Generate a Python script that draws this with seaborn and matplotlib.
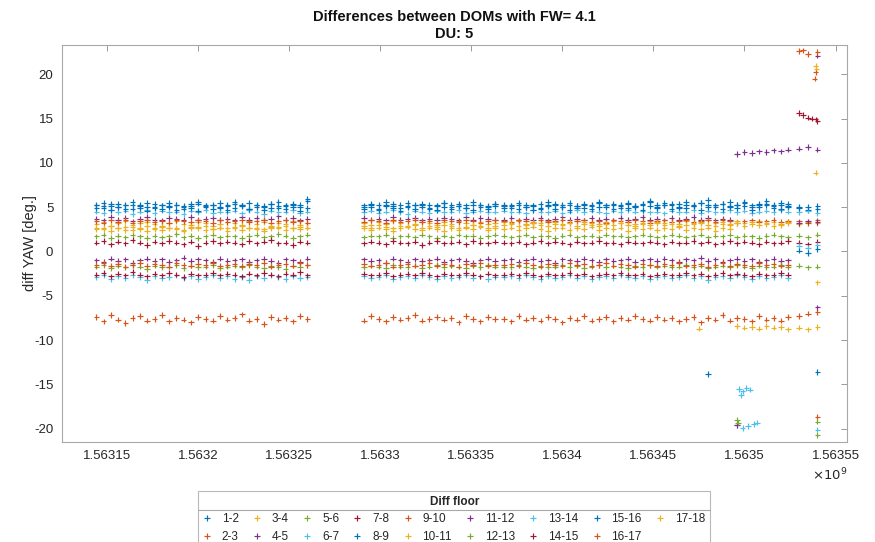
import numpy as np
import pandas as pd
import matplotlib
matplotlib.use("Agg")
import matplotlib.pyplot as plt
import seaborn as sns
from matplotlib.ticker import FuncFormatter, MultipleLocator
from matplotlib.lines import Line2D

nan = np.nan

# pares de pisos y colores (orden de colores de MATLAB)
pairs = ["1-2", "2-3", "3-4", "4-5", "5-6", "6-7", "7-8", "8-9", "9-10",
         "10-11", "11-12", "12-13", "13-14", "14-15", "15-16", "16-17", "17-18"]
matlab_colors = ["#0072BD", "#D95319", "#EDB120", "#7E2F8E", "#77AC30", "#4DBEEE", "#A2142F"]

# tiempos de muestreo (unix time, s)
t_seg1 = [1563144000, 1563148000, 1563152000, 1563156000, 1563160000, 1563164000, 1563168000,
          1563172000, 1563176000, 1563180000, 1563184000, 1563188000, 1563192000, 1563196000,
          1563200000, 1563204000, 1563208000, 1563212000, 1563216000, 1563220000, 1563224000,
          1563228000, 1563232000, 1563236000, 1563240000, 1563244000, 1563248000, 1563252000,
          1563256000, 1563260000]
t_seg2 = [1563291000, 1563295000, 1563299000, 1563303000, 1563307000, 1563311000, 1563315000,
          1563319000, 1563323000, 1563327000, 1563331000, 1563335000, 1563339000, 1563343000,
          1563347000, 1563351000, 1563355000, 1563359000, 1563363000]
t_seg3 = [1563368000, 1563372000, 1563376000, 1563380000, 1563384000, 1563388000, 1563392000,
          1563396000, 1563400000, 1563404000, 1563408000, 1563412000, 1563416000, 1563420000,
          1563424000, 1563428000, 1563432000, 1563436000, 1563440000, 1563444000, 1563448000,
          1563452000, 1563456000, 1563460000, 1563464000, 1563468000, 1563472000, 1563476000,
          1563480000, 1563484000, 1563488000, 1563492000, 1563496000, 1563500000, 1563504000,
          1563508000, 1563512000, 1563516000, 1563520000, 1563524000]
t_post = [1563530000, 1563535000, 1563540000]

# diferencias de YAW [deg] por par de pisos
yaw_1_2 = ([5.2, 4.9, 5.4, 5.0, 5.3, 4.8, 5.1, 5.5, 4.9, 5.2, 5.0, 5.3, 4.8, 5.1, 5.4,
            5.0, 5.2, 4.9, 5.3, 5.6, 5.1, 4.8, 5.2, 5.0, 5.4, 4.9, 5.1, 5.3, 5.0, 5.7]
           + [5.0, 5.3, 4.8, 5.2, 5.4, 4.9, 5.1, 5.3, 5.0, 4.8, 5.2, 5.5, 5.0, 5.1, 4.9, 5.3, 5.2, 5.0, 5.4]
           + [5.1, 4.9, 5.3, 5.0, 5.2, 4.8, 5.1, 5.4, 5.0, 5.2, 4.9, 5.3, 5.1, 5.5, 5.0, 5.2, 4.9, 5.4, 5.1, 5.3,
              5.6, 5.0, 5.2, 5.4, 4.9, 5.3, 5.1, 5.5, 5.2, 5.0, 5.4, 5.1, 5.3, 5.6, 5.0, 5.2, 5.4, 5.1, 5.3, 5.0]
           + [5.0, 4.7, 5.1])
yaw_2_3 = ([-7.4, -7.9, -7.2, -7.7, -8.1, -7.5, -7.3, -7.8, -7.6, -7.2, -7.9, -7.5, -7.7, -8.0, -7.4,
            -7.6, -7.8, -7.3, -7.7, -7.5, -7.1, -7.8, -7.6, -8.2, -7.4, -7.7, -7.5, -7.9, -7.3, -7.6]
           + [-7.8, -7.3, -7.6, -7.9, -7.4, -7.7, -7.5, -7.2, -7.8, -7.6, -7.4, -7.7, -7.5, -8.0, -7.3,
              -7.6, -7.9, -7.4, -7.6]
           + [-7.6, -7.9, -7.3, -7.7, -7.5, -7.8, -7.4, -7.6, -8.0, -7.5, -7.7, -7.3, -7.8, -7.6, -7.4,
              -7.9, -7.5, -7.7, -7.3, -7.6, -7.8, -7.4, -7.7, -7.5, -7.9, -7.6, -7.4, -8.0, -7.5, -7.7,
              -7.2, -7.8, -7.5, -7.6, -7.9, -7.3, -7.7, -7.5, -7.8, -7.4]
           + [-7.3, -7.0, -6.8])
yaw_3_4 = ([3.1, 3.3, 2.9, 3.2, 3.4, 3.0, 3.2, 3.3, 3.1, 2.9, 3.2, 3.4, 3.1, 3.0, 3.3,
            3.2, 2.9, 3.1, 3.3, 3.2, 3.0, 3.4, 3.1, 3.3, 2.9, 3.2, 3.1, 3.4, 3.0, 3.2]
           + [3.2, 3.0, 3.3, 3.1, 3.4, 3.2, 2.9, 3.1, 3.3, 3.2, 3.0, 3.3, 3.1, 3.4, 3.2, 3.0, 3.3, 3.1, 3.2]
           + [3.3, 3.2, 3.4, 3.1, 3.3, 3.2, 3.4, 3.3, 3.1, 3.2, 3.4, 3.3, 3.2, 3.1, 3.3, 3.4, 3.2, 3.3, 3.1, 3.2,
              3.4, 3.3, 3.2, 3.3, 3.1, 3.4, 3.2, 3.3, 3.5, 3.2, 3.3, 3.1, 3.4, 3.2, 3.3, 3.4, 3.2, 3.3, 3.1, 3.3]
           + [3.1, 3.3, 3.2])
yaw_4_5 = ([3.7, 3.5, 3.9, 3.6, 3.8, 3.4, 3.7, 3.9, 3.6, 3.5, 3.8, 3.7, 3.6, 3.9, 3.5,
            3.7, 3.8, 3.6, 3.7, 3.5, 3.9, 3.6, 3.8, 3.5, 3.7, 4.0, 3.6, 3.8, 3.5, 3.7]
           + [3.8, 3.6, 3.7, 3.5, 3.9, 3.6, 3.7, 3.8, 3.5, 3.7, 3.6, 3.8, 3.7, 3.5, 3.9, 3.6, 3.8, 3.7, 3.6]
           + [3.6, 3.8, 3.5, 3.7, 3.6, 3.8, 3.5, 3.7, 3.9, 3.6, 3.7, 3.5, 3.8, 3.6, 3.7, 3.5, 3.8, 3.6, 3.7, 3.9,
              3.6, 3.7, 3.5, 3.8, 3.6, 3.7, 3.9, 3.6, 3.8, 3.5, 3.7, 3.6, 11.0, 11.2, 11.1, 11.3, 11.2, 11.4, 11.3, 11.5]
           + [11.6, 11.8, 11.5])
yaw_5_6 = ([1.7, 1.9, 1.5, 1.8, 1.6, 1.9, 1.7, 1.5, 1.8, 1.6, 1.7, 2.0, 1.6, 1.8, 1.5,
            1.7, 1.9, 1.6, 1.8, 1.7, 1.5, 1.8, 1.9, 1.6, 1.7, 2.0, 1.8, 1.5, 1.7, 1.9]
           + [1.6, 1.8, 1.7, 1.9, 1.5, 1.7, 1.8, 1.6, 1.9, 1.7, 1.5, 1.8, 1.6, 1.9, 1.7, 1.8, 1.5, 1.7, 1.9]
           + [1.8, 1.6, 1.7, 1.9, 1.6, 1.8, 1.7, 1.5, 1.8, 1.9, 1.6, 1.7, 1.8, 1.6, 1.9, 1.7, 1.8, 1.6, 1.7, 1.9,
              1.8, 1.6, 1.7, 1.9, 1.8, 1.6, 1.7, 1.9, 1.6, 1.8, 1.7, 1.9, 1.6, 1.8, 1.7, 1.5, 1.8, 1.9, 1.7, 1.6]
           + [1.8, 1.6, 1.9])
yaw_6_7 = ([4.5, 4.3, 4.7, 4.4, 4.6, 4.2, 4.5, 4.7, 4.3, 4.6, 4.4, 4.5, 4.2, 4.6, 4.4,
            4.7, 4.3, 4.5, 4.4, 4.6, 4.3, 4.7, 4.5, 4.2, 4.6, 4.4, 4.5, 4.7, 4.3, 4.5]
           + [4.4, 4.6, 4.3, 4.5, 4.7, 4.4, 4.2, 4.6, 4.5, 4.3, 4.6, 4.4, 4.5, 4.7, 4.3, 4.5, 4.6, 4.4, 4.5]
           + [4.6, 4.4, 4.5, 4.3, 4.7, 4.5, 4.4, 4.6, 4.3, 4.5, 4.7, 4.4, 4.6, 4.5, 4.3, 4.6, 4.4, 4.7, 4.5, 4.6,
              4.4, 4.5, 4.3, 4.6, 4.4, 4.5, 4.7, 4.3, 4.6, 4.4, 4.5, 4.7, 4.4, 4.6, 4.3, 4.5, 4.6, 4.4, 4.7, 4.5]
           + [4.4, 4.6, 4.3])
yaw_7_8 = ([1.0, 1.2, 0.8, 1.1, 0.9, 1.3, 1.0, 0.7, 1.1, 0.9, 1.2, 1.0, 0.8, 1.1, 0.6,
            1.0, 1.2, 0.9, 1.1, 1.0, 0.8, 1.2, 0.9, 1.1, 1.3, 0.9, 1.0, 0.7, 1.1, 1.0]
           + [0.9, 1.1, 1.0, 0.8, 1.2, 1.0, 0.9, 1.1, 0.7, 1.0, 1.2, 0.9, 1.0, 1.1, 0.8, 1.2, 1.0, 0.9, 1.1]
           + [1.0, 0.9, 1.1, 0.8, 1.0, 1.2, 0.9, 1.1, 1.0, 0.8, 1.1, 0.9, 1.0, 1.2, 0.9, 1.0, 0.8, 1.1, 1.0, 0.9,
              1.1, 1.0, 0.8, 1.1, 0.9, 1.0, 1.2, 0.9, 1.1, 0.8, 1.0, 1.2, 0.9, 1.1, 1.0, 0.8, 1.1, 0.9, 1.0, 1.2]
           + [1.0, 0.8, 1.1])
yaw_8_9 = ([4.9, 5.1, 4.7, 5.0, 4.8, 5.2, 4.9, 4.6, 5.0, 4.8, 5.1, 4.7, 5.0, 4.9, 4.6,
            5.1, 4.8, 5.0, 4.7, 4.9, 5.2, 4.8, 5.0, 4.7, 4.9, 5.1, 4.8, 5.0, 4.6, 4.9]
           + [4.8, 5.0, 4.7, 5.1, 4.9, 4.6, 5.0, 4.8, 5.2, 4.9, 4.7, 5.0, 4.8, 5.1, 4.9, 4.7, 5.0, 4.8, 5.1]
           + [4.9, 5.1, 4.8, 5.0, 4.7, 4.9, 5.2, 4.8, 5.0, 4.7, 5.1, 4.9, 4.8, 5.0, 5.2, 4.8, 5.1, 4.9, 5.0, 4.7,
              5.1, 4.9, 5.2, 4.8, 5.0, 4.9, 5.1, 4.7, 5.0, 5.2, 4.8, 5.0, 4.9, 5.1, 4.7, 5.0, 5.2, 4.9, 4.8, 5.1]
           + [4.9, 5.0, 4.8])
yaw_9_10 = ([3.4, 3.2, 3.5, 3.3, 3.6, 3.2, 3.4, 3.5, 3.3, 3.4, 3.2, 3.5, 3.4, 3.3, 3.6,
             3.4, 3.2, 3.5, 3.3, 3.4, 3.5, 3.3, 3.4, 3.6, 3.2, 3.4, 3.5, 3.3, 3.4, 3.2]
            + [3.3, 3.5, 3.4, 3.2, 3.5, 3.3, 3.4, 3.6, 3.3, 3.4, 3.2, 3.5, 3.4, 3.3, 3.5, 3.4, 3.2, 3.4, 3.5]
            + [3.4, 3.3, 3.5, 3.4, 3.2, 3.5, 3.3, 3.4, 3.6, 3.3, 3.4, 3.5, 3.3, 3.4, 3.2, 3.5, 3.4, 3.3, 3.5, 3.4,
               3.2, 3.4, 3.5, 3.3, 3.4, 3.5, 3.3, 3.4, 3.6, 3.3, 3.5, 3.4, 3.2, 3.4, 3.5, 3.3, 3.4, 3.6, 3.3, 3.4]
            + [3.4, 3.2, 3.5])
yaw_10_11 = ([2.7, 2.5, 2.9, 2.6, 2.8, 2.4, 2.7, 2.9, 2.5, 2.8, 2.6, 2.7, 2.4, 2.8, 2.6,
              2.9, 2.5, 2.7, 2.6, 2.8, 2.9, 2.6, 2.7, 2.5, 2.8, 2.7, 2.9, 2.6, 2.8, 2.7]
             + [2.9, 2.7, 3.0, 2.8, 2.6, 2.9, 2.8, 3.0, 2.7, 2.9, 2.8, 3.0, 2.9, 2.7, 2.8, 3.0, 2.9, 2.7, 2.9]
             + [3.0, 3.1, 2.9, 3.0, 3.2, 3.0, 2.9, 3.1, 3.0, 3.2, 2.9, 3.1, 3.0, 2.9, 3.1, 3.0, 3.2, 3.0, 2.9, 3.1,
                3.0, 3.2, 3.0, 3.1, 2.9, 3.0, 3.1, 3.2, 3.0, 2.9, 3.1, 3.0, 3.2, 2.9, 3.1, 3.0, 3.1, 2.9, 3.0, 3.2]
             + [nan, nan, nan])
yaw_11_12 = ([-1.0, -1.2, -0.8, -1.1, -0.9, -1.3, -1.0, -0.8, -1.1, -0.9, -1.2, -1.0, -0.7, -1.1, -0.9,
              -1.0, -1.2, -0.8, -1.1, -1.0, -0.9, -1.2, -1.0, -0.8, -1.1, -1.3, -0.9, -1.0, -1.2, -0.8]
             + [-0.9, -1.1, -1.0, -1.3, -0.8, -1.0, -1.2, -0.9, -1.1, -1.0, -0.8, -1.2, -1.0, -0.9, -1.1,
                -1.3, -1.0, -0.8, -1.1]
             + [-1.0, -0.9, -1.2, -1.0, -0.8, -1.1, -1.0, -1.3, -0.9, -1.0, -1.1, -0.8, -1.0, -1.2, -0.9,
                -1.1, -1.0, -0.8, -1.2, -1.0, -0.9, -1.1, -0.8, -1.0, -1.2, -0.9, -1.0, -0.7, -1.1, -0.9,
                -1.2, -1.0, -0.8, -1.1, -0.9, -1.2, -1.0, -0.8, -1.1, -1.0]
             + [3.2, 3.4, 3.3])
yaw_12_13 = ([-1.7, -1.5, -1.9, -1.6, -1.8, -1.5, -1.7, -2.0, -1.6, -1.8, -1.7, -1.5, -1.9, -1.6, -1.8,
              -1.7, -1.5, -1.9, -1.7, -1.6, -1.8, -1.5, -1.7, -1.9, -1.6, -1.8, -2.0, -1.6, -1.7, -1.5]
             + [-1.8, -1.6, -1.7, -1.9, -1.5, -1.7, -1.8, -1.6, -1.9, -1.7, -1.5, -1.8, -1.6, -1.7, -1.9,
                -1.6, -1.8, -1.5, -1.7]
             + [-1.7, -1.8, -1.5, -1.7, -1.9, -1.6, -1.8, -1.7, -1.5, -1.8, -1.6, -1.9, -1.7, -1.5, -1.8,
                -1.6, -1.7, -1.9, -1.6, -1.8, -1.5, -1.7, -1.6, -1.8, -1.7, -1.5, -1.8, -1.6, -1.9, -1.7,
                -1.6, -1.8, -1.5, -1.7, -1.9, -1.6, -1.8, -1.7, -1.5, -1.8]
             + [-1.6, -1.8, -1.7])
yaw_13_14 = ([-2.9, -2.7, -3.1, -2.8, -3.0, -2.7, -2.9, -3.2, -2.8, -3.0, -2.9, -2.7, -3.0, -2.8, -3.1,
              -2.9, -2.7, -3.0, -2.8, -3.1, -2.9, -3.2, -2.8, -3.0, -2.7, -2.9, -3.1, -2.8, -3.0, -2.9]
             + [-2.8, -3.0, -2.9, -2.7, -3.1, -2.9, -2.8, -3.0, -2.7, -2.9, -3.1, -2.8, -3.0, -2.9, -2.7,
                -3.0, -2.8, -3.1, -2.9]
             + [-2.9, -2.8, -3.0, -2.7, -2.9, -3.1, -2.8, -3.0, -2.9, -2.7, -3.0, -2.8, -3.1, -2.9, -2.8,
                -3.0, -2.7, -2.9, -3.0, -2.8, -3.1, -2.9, -2.8, -3.0, -2.9, -2.7, -3.0, -2.8, -3.2, -2.9,
                -2.8, -3.0, -2.7, -2.9, -3.1, -2.8, -3.0, -2.9, -2.7, -3.0]
             + [0.6, 0.4, 0.7])
yaw_14_15 = ([-2.6, -2.4, -2.8, -2.5, -2.7, -2.3, -2.6, -2.8, -2.5, -2.7, -2.4, -2.6, -2.9, -2.5, -2.7,
              -2.6, -2.4, -2.7, -2.5, -2.6, -2.8, -2.5, -2.7, -2.4, -2.6, -2.8, -2.5, -2.6, -2.3, -2.7]
             + [-2.5, -2.7, -2.6, -2.4, -2.8, -2.6, -2.5, -2.7, -2.4, -2.6, -2.8, -2.5, -2.6, -2.7, -2.4,
                -2.6, -2.8, -2.5, -2.7]
             + [-2.6, -2.5, -2.7, -2.4, -2.6, -2.8, -2.5, -2.7, -2.6, -2.4, -2.7, -2.5, -2.8, -2.6, -2.5,
                -2.7, -2.4, -2.6, -2.7, -2.5, -2.8, -2.6, -2.5, -2.7, -2.6, -2.4, -2.7, -2.5, -2.8, -2.6,
                -2.4, -2.7, -2.5, -2.6, -2.8, -2.5, -2.7, -2.6, -2.4, -2.6]
             + [15.6, 15.1, 14.7])
yaw_15_16 = ([5.3, 5.5, 5.1, 5.4, 5.2, 5.6, 5.3, 5.0, 5.4, 5.2, 5.5, 5.3, 5.1, 5.4, 5.6,
              5.2, 5.3, 5.5, 5.1, 5.4, 5.2, 5.5, 5.3, 5.1, 5.4, 5.6, 5.2, 5.4, 5.3, 5.9]
             + [5.2, 5.4, 5.3, 5.6, 5.1, 5.3, 5.5, 5.2, 5.4, 5.3, 5.1, 5.5, 5.3, 5.4, 5.2, 5.6, 5.3, 5.1, 5.4]
             + [5.3, 5.2, 5.5, 5.3, 5.1, 5.4, 5.6, 5.2, 5.3, 5.5, 5.1, 5.4, 5.3, 5.6, 5.2, 5.4, 5.3, 5.5, 5.1, 5.4,
                5.7, 5.3, 5.5, 5.2, 5.4, 5.6, 5.3, 5.5, 5.8, 5.2, 5.4, 5.6, 5.3, 5.5, 5.2, 5.4, 5.7, 5.3, 5.5, 5.4]
             + [0.1, -0.2, 0.3])
yaw_16_17 = ([-1.5, -1.3, -1.6, -1.4, -1.7, -1.5, -1.3, -1.6, -1.4, -1.5, -1.7, -1.3, -1.5, -1.6, -1.4,
              -1.5, -1.3, -1.6, -1.5, -1.4, -1.6, -1.4, -1.5, -1.3, -1.7, -1.5, -1.4, -1.6, -1.3, -1.5]
             + [-1.4, -1.6, -1.5, -1.3, -1.7, -1.5, -1.4, -1.6, -1.5, -1.3, -1.6, -1.4, -1.5, -1.7, -1.4,
                -1.5, -1.3, -1.6, -1.5]
             + [-1.5, -1.4, -1.6, -1.3, -1.5, -1.7, -1.4, -1.5, -1.6, -1.3, -1.5, -1.4, -1.6, -1.5, -1.3,
                -1.6, -1.4, -1.5, -1.7, -1.4, -1.5, -1.6, -1.4, -1.5, -1.3, -1.6, -1.5, -1.4, -1.7, -1.5,
                -1.3, -1.6, -1.4, -1.5, -1.6, -1.3, -1.5, -1.4, -1.6, -1.5]
             + [22.6, 22.3, 22.5])
yaw_17_18 = ([2.5, 2.7, 2.3, 2.6, 2.4, 2.8, 2.5, 2.3, 2.6, 2.4, 2.7, 2.5, 2.3, 2.6, 2.8,
              2.4, 2.5, 2.7, 2.3, 2.6, 2.4, 2.7, 2.5, 2.3, 2.6, 2.8, 2.4, 2.6, 2.5, 2.7]
             + [2.6, 2.4, 2.7, 2.5, 2.3, 2.6, 2.8, 2.5, 2.4, 2.7, 2.5, 2.3, 2.6, 2.4, 2.7, 2.5, 2.8, 2.4, 2.6]
             + [2.5, 2.7, 2.4, 2.6, 2.8, 2.5, 2.3, 2.6, 2.7, 2.4, 2.6, 2.5, 2.8, 2.4, 2.6, 2.5, 2.7, 2.3, 2.6, 2.5,
                2.7, 2.4, 2.6, 2.5, 2.8, 2.4, 2.6, 2.5, 2.7, 2.3, 2.6, 2.5, -8.4, -8.6, -8.5, -8.7, -8.4, -8.6, -8.5, -8.8]
             + [-8.6, -8.8, -8.5])

# puntos sueltos (saltos al final del periodo)
extra_pair = ["8-9", "8-9", "6-7", "6-7", "6-7", "6-7", "6-7", "6-7", "6-7", "6-7", "6-7", "6-7",
              "11-12", "12-13", "12-13", "2-3", "5-6", "13-14", "12-13",
              "10-11", "10-11", "10-11", "10-11", "17-18", "16-17", "16-17", "16-17", "4-5", "11-12",
              "14-15", "14-15", "14-15"]
extra_t = [1563480000, 1563540000, 1563497000, 1563499000, 1563501000, 1563503000, 1563498000,
           1563496000, 1563499000, 1563502000, 1563505000, 1563507000,
           1563496000, 1563496000, 1563496500, 1563540000, 1563540000, 1563540000, 1563540000,
           1563539000, 1563539500, 1563539000, 1563540000, 1563475000, 1563539000, 1563538500, 1563532000,
           1563540000, 1563540000, 1563532000, 1563537000, 1563539000]
extra_val = [-13.8, -13.6, -15.5, -15.8, -15.4, -15.6, -16.2, -19.6, -19.9, -19.7, -19.5, -19.3,
             -19.6, -19.0, -19.3, -18.7, -19.2, -20.1, -20.7,
             20.9, 20.6, 8.9, -3.5, -8.7, 20.2, 19.5, 22.7, 22.1, -6.3, 15.4, 15.0, 14.9]

times = t_seg1 + t_seg2 + t_seg3 + t_post
series = [yaw_1_2, yaw_2_3, yaw_3_4, yaw_4_5, yaw_5_6, yaw_6_7, yaw_7_8, yaw_8_9, yaw_9_10,
          yaw_10_11, yaw_11_12, yaw_12_13, yaw_13_14, yaw_14_15, yaw_15_16, yaw_16_17, yaw_17_18]

frames = []
for p, vals in zip(pairs, series):
    assert len(vals) == len(times), (p, len(vals))
    frames.append(pd.DataFrame({"t": times, "yaw": vals, "pair": p}))
    sel = [i for i, q in enumerate(extra_pair) if q == p]
    if sel:
        frames.append(pd.DataFrame({"t": [extra_t[i] for i in sel],
                                    "yaw": [extra_val[i] for i in sel], "pair": p}))
df = pd.concat(frames, ignore_index=True).dropna()

palette = [matlab_colors[i % 7] for i in range(len(pairs))]

sns.set_theme(style="white")
plt.rcParams["font.family"] = ["Liberation Sans", "DejaVu Sans"]
plt.rcParams["axes.unicode_minus"] = False

fig = plt.figure(figsize=(8.75, 5.42), dpi=100)
ax = fig.add_axes([0.0705, 0.1845, 0.8975, 0.7325])

sns.scatterplot(data=df, x="t", y="yaw", hue="pair", hue_order=pairs, palette=palette,
                marker="+", s=16, linewidth=0.85, ax=ax)

ax.set_xlim(1563125000, 1563556300)
ax.set_ylim(-21.5, 23.3)
ax.xaxis.set_major_locator(MultipleLocator(50000))
ax.yaxis.set_major_locator(MultipleLocator(5))
fmt = FuncFormatter(lambda v, pos: f"{v / 1e9:.6g}")
fmt.set_offset_string(r"$\times10^{9}$")
ax.xaxis.set_major_formatter(fmt)

ax.tick_params(direction="in", length=4, width=0.7, top=True, right=True,
               color="#9a9a9a", labelcolor="#262626", labelsize=9.5, pad=6)
for sp in ax.spines.values():
    sp.set_color("#a8a8a8")
    sp.set_linewidth(0.8)
ax.xaxis.get_offset_text().set_fontsize(9.5)
ax.xaxis.get_offset_text().set_color("#262626")

ax.set_xlabel("")
ax.set_ylabel("diff YAW [deg.]", fontsize=10.5, color="#262626", labelpad=-2)
ax.set_title("Differences between DOMs with FW= 4.1\nDU: 5", fontsize=10.5,
             fontweight="bold", color="#111111", pad=5, linespacing=1.3)

sns.move_legend(ax, "upper center", bbox_to_anchor=(0.5, -0.123), ncol=9,
                title="Diff floor", frameon=True, fancybox=False, fontsize=8.5,
                title_fontsize=8.5, handlelength=0.6, handletextpad=0.95,
                columnspacing=1.25, borderpad=0.45, labelspacing=0.45, borderaxespad=0)
leg = ax.get_legend()
leg.get_title().set_fontweight("bold")
leg.get_frame().set_edgecolor("#a8a8a8")
leg.get_frame().set_linewidth(0.8)

# línea bajo el título de la leyenda
fig.canvas.draw()
lb = leg.get_window_extent()
tb = leg.get_title().get_window_extent()
inv = fig.transFigure.inverted()
(x0, y0) = inv.transform((lb.x0, tb.y0 - 2))
(x1, _) = inv.transform((lb.x1, tb.y0 - 2))
fig.add_artist(Line2D([x0, x1], [y0, y0], transform=fig.transFigure,
                      color="#a8a8a8", linewidth=0.8))

fig.savefig("out.png", dpi=100)
plt.close()
